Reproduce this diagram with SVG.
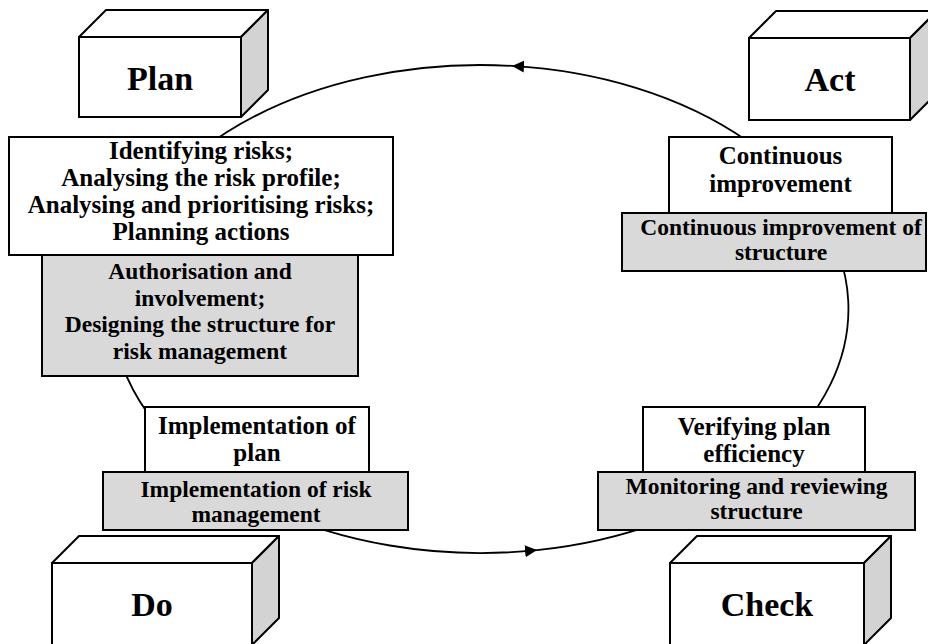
<svg xmlns="http://www.w3.org/2000/svg" width="928" height="644" viewBox="0 0 928 644">
<style>
.box{fill:#ffffff;stroke:#000;stroke-width:2}
.gbox{fill:#d9d9d9;stroke:#000;stroke-width:2}
.side{fill:#d3d3d3;stroke:#000;stroke-width:2;stroke-linejoin:round}
.top{fill:#ffffff;stroke:#000;stroke-width:2;stroke-linejoin:round}
.big{font-family:"Liberation Serif","Times New Roman",serif;font-weight:bold;font-size:34px;text-anchor:middle;fill:#000}
.t{font-family:"Liberation Serif","Times New Roman",serif;font-weight:bold;font-size:25px;text-anchor:middle;fill:#000}
.g{font-family:"Liberation Serif","Times New Roman",serif;font-weight:bold;font-size:23.5px;text-anchor:middle;fill:#000}
.arc{fill:none;stroke:#000;stroke-width:1.8}
</style>
<defs>
<marker id="ah" markerUnits="userSpaceOnUse" markerWidth="14" markerHeight="14" refX="12" refY="6" orient="auto">
<path d="M0,0 L12,6 L0,12 z" fill="#000"/>
</marker>
</defs>
<g id="connectors">
<path class="arc" d="M 512 65.9 A 368 244 0 1 0 537 550.1" marker-end="url(#ah)"/>
<path class="arc" d="M 537 550.1 A 368 244 0 0 0 512 65.9" marker-end="url(#ah)"/>
</g>
<g id="plan">
<polygon class="top" points="79,37 106,10 268,10 241,37"/>
<polygon class="side" points="241,37 268,10 268,90 241,117"/>
<rect class="box" x="79" y="37" width="162" height="80"/>
<text class="big" x="160" y="90">Plan</text>
</g>
<g id="act">
<polygon class="top" points="749,38 776,11 937,11 910,38"/>
<polygon class="side" points="910,38 937,11 937,93 910,120"/>
<rect class="box" x="749" y="38" width="161" height="82"/>
<text class="big" x="830" y="91">Act</text>
</g>
<g id="do">
<polygon class="top" points="52,563 79,536 279,536 252,563"/>
<polygon class="side" points="252,563 279,536 279,618 252,645"/>
<rect class="box" x="52" y="563" width="200" height="82"/>
<text class="big" x="152" y="616">Do</text>
</g>
<g id="check">
<polygon class="top" points="670,563 697,536 891,536 864,563"/>
<polygon class="side" points="864,563 891,536 891,618 864,645"/>
<rect class="box" x="670" y="563" width="194" height="82"/>
<text class="big" x="767" y="616">Check</text>
</g>
<g id="plan-activities">
<rect class="box" x="9" y="137" width="384" height="118"/>
<text class="t" x="201" y="159">Identifying risks;</text>
<text class="t" x="201" y="186">Analysing the risk profile;</text>
<text class="t" x="201" y="213">Analysing and prioritising risks;</text>
<text class="t" x="201" y="240">Planning actions</text>
</g>
<g id="plan-structure">
<rect class="gbox" x="42" y="255" width="316" height="121"/>
<text class="g" x="200" y="279">Authorisation and</text>
<text class="g" x="200" y="305.5">involvement;</text>
<text class="g" x="200" y="332">Designing the structure for</text>
<text class="g" x="200" y="358.5">risk management</text>
</g>
<g id="act-activities">
<rect class="box" x="669" y="137" width="223" height="76"/>
<text class="t" x="780.5" y="164">Continuous</text>
<text class="t" x="780.5" y="192">improvement</text>
</g>
<g id="act-structure">
<rect class="gbox" x="622" y="213" width="304" height="58"/>
<text class="g" x="781" y="235">Continuous improvement of</text>
<text class="g" x="781" y="260">structure</text>
</g>
<g id="do-activities">
<rect class="box" x="145" y="407" width="224" height="65"/>
<text class="t" x="257" y="434">Implementation of</text>
<text class="t" x="257" y="461">plan</text>
</g>
<g id="do-structure">
<rect class="gbox" x="103" y="472" width="305" height="58"/>
<text class="g" x="256" y="497">Implementation of risk</text>
<text class="g" x="256" y="522">management</text>
</g>
<g id="check-activities">
<rect class="box" x="643" y="407" width="222" height="65"/>
<text class="t" x="754" y="435">Verifying plan</text>
<text class="t" x="754" y="462">efficiency</text>
</g>
<g id="check-structure">
<rect class="gbox" x="598" y="472" width="317" height="58"/>
<text class="g" x="756.5" y="494">Monitoring and reviewing</text>
<text class="g" x="756.5" y="519">structure</text>
</g>
</svg>
